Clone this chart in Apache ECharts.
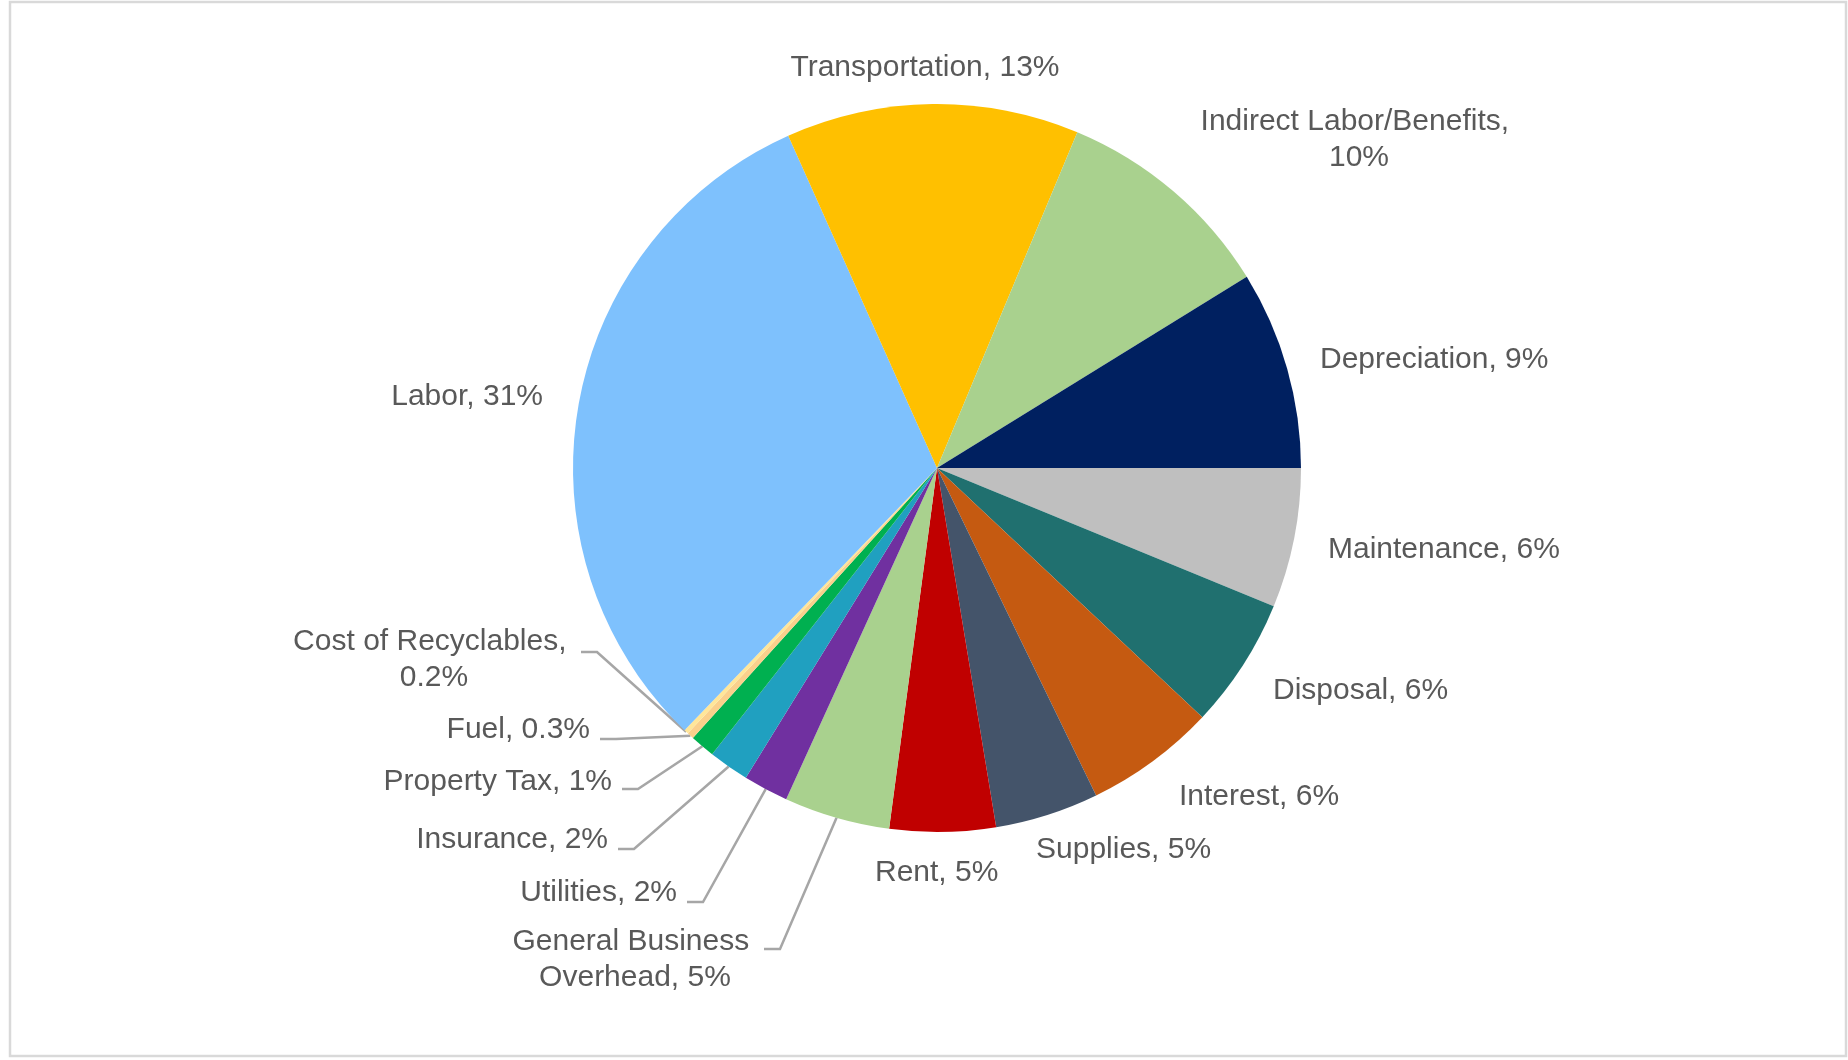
<!DOCTYPE html>
<html>
<head>
<meta charset="utf-8">
<script src="https://cdn.jsdelivr.net/npm/echarts@6/dist/echarts.min.js"></script>
<style>
html,body{margin:0;padding:0;background:#ffffff;}
#chart{width:1848px;height:1060px;}
</style>
</head>
<body>
<div id="chart"></div>
<script>
// ---- data (clockwise from 3 o'clock) ----
const categories = ['Maintenance','Disposal','Interest','Supplies','Rent','General Business Overhead','Utilities','Insurance','Property Tax','Fuel','Cost of Recyclables','Labor','Transportation','Indirect Labor/Benefits','Depreciation'];
const shares = [6.2, 5.8, 5.8, 4.6, 4.7, 4.7, 2.0, 1.8, 1.1, 0.3, 0.2, 31.1, 13.0, 9.9, 8.8];
const shareLabels = ['6%','6%','6%','5%','5%','5%','2%','2%','1%','0.3%','0.2%','31%','13%','10%','9%'];
const sliceColors = ['#BFBFBF','#20706F','#C55A11','#44546A','#C00000','#A9D18E','#7030A0','#20A0C0','#00B050','#FAD08C','#FFE699','#7EC1FD','#FFC000','#A9D18E','#002060'];

// ---- label placement (layout only) ----
const labelSpots = {
  'Maintenance': {x:1328, y:550, align:'left'},
  'Disposal': {x:1273, y:691, align:'left'},
  'Interest': {x:1179, y:797, align:'left'},
  'Supplies': {x:1036, y:850, align:'left'},
  'Rent': {x:875, y:873, align:'left'},
  'General Business Overhead': {x:635, y:960, align:'center', width:255, lead:[764, 949]},
  'Utilities': {x:677, y:893, align:'right', lead:[687, 902]},
  'Insurance': {x:608, y:840, align:'right', lead:[618, 849]},
  'Property Tax': {x:612, y:782, align:'right', lead:[622, 789]},
  'Fuel': {x:590, y:730, align:'right', lead:[600, 739]},
  'Cost of Recyclables': {x:434, y:660, align:'center', width:285, lead:[581, 652]},
  'Labor': {x:543, y:397, align:'right'},
  'Transportation': {x:925, y:68, align:'center'},
  'Indirect Labor/Benefits': {x:1359, y:140, align:'center', width:320},
  'Depreciation': {x:1320, y:360, align:'left'}
};

const CX = 937, CY = 468, R = 364;
const total = shares.reduce((a, b) => a + b, 0);

function rimPoint(idx) {
  let cum = 0;
  for (let i = 0; i < idx; i++) cum += shares[i];
  const a = (cum + shares[idx] / 2) / total * 2 * Math.PI;
  return [CX + R * Math.cos(a), CY + R * Math.sin(a)];
}

const seriesData = categories.map((name, i) => {
  const spot = labelSpots[name];
  const item = {
    name: name,
    value: shares[i],
    itemStyle: {color: sliceColors[i]},
    labelLine: {show: !!spot.lead}
  };
  if (spot.width) {
    item.label = {width: spot.width, overflow: 'break'};
  }
  return item;
});

const chart = echarts.init(document.getElementById('chart'), null, {renderer: 'canvas'});
chart.setOption({
  backgroundColor: '#ffffff',
  animation: false,
  graphic: [{
    type: 'rect',
    shape: {x: 10, y: 2, width: 1836, height: 1054},
    style: {fill: 'none', stroke: '#D9D9D9', lineWidth: 2.5},
    silent: true
  }],
  series: [{
    type: 'pie',
    center: [CX, CY],
    radius: [0, R],
    startAngle: 0,
    clockwise: true,
    avoidLabelOverlap: false,
    itemStyle: {borderWidth: 0},
    label: {
      show: true,
      position: 'outside',
      fontFamily: 'Liberation Sans, Arial, sans-serif',
      fontSize: 30,
      lineHeight: 36,
      color: '#595959',
      formatter: p => p.name + ', ' + shareLabels[p.dataIndex]
    },
    labelLine: {
      length: 10,
      length2: 10,
      lineStyle: {color: '#A6A6A6', width: 2.5}
    },
    labelLayout: function (params) {
      const name = categories[params.dataIndex];
      const spot = labelSpots[name];
      const out = {x: spot.x, y: spot.y, align: spot.align, verticalAlign: 'middle'};
      if (spot.lead) {
        const start = (params.labelLinePoints && params.labelLinePoints[0]) || rimPoint(params.dataIndex);
        out.labelLinePoints = [start, [spot.lead[0] + 16, spot.lead[1]], spot.lead];
      }
      return out;
    },
    data: seriesData
  }]
});
</script>
</body>
</html>
